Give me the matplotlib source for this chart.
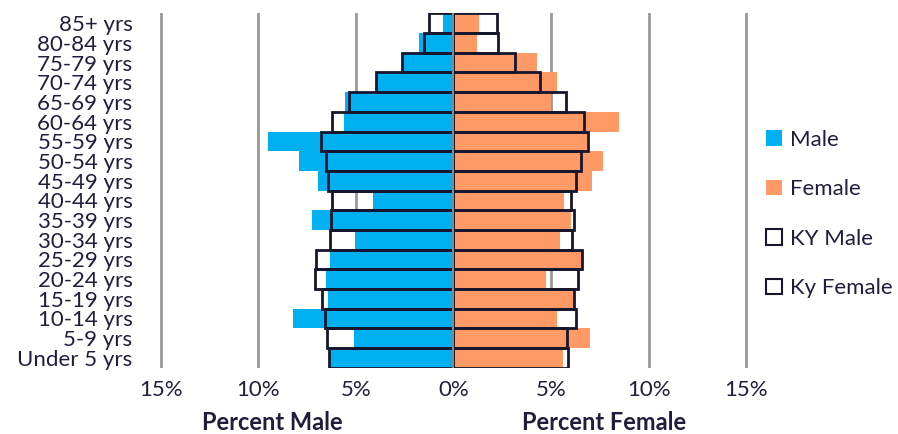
import numpy as np
import matplotlib
matplotlib.use('Agg')
from matplotlib import pyplot as plt
from matplotlib.patches import Patch

# age groups, bottom to top
ages = ['Under 5 yrs', '5-9 yrs', '10-14 yrs', '15-19 yrs', '20-24 yrs', '25-29 yrs',
        '30-34 yrs', '35-39 yrs', '40-44 yrs', '45-49 yrs', '50-54 yrs', '55-59 yrs',
        '60-64 yrs', '65-69 yrs', '70-74 yrs', '75-79 yrs', '80-84 yrs', '85+ yrs']

# percentages (county vs Kentucky)
male     = [6.34, 5.10, 8.24, 6.44, 6.52, 6.35, 5.03, 7.27, 4.13, 6.95, 7.93, 9.52,
            5.63, 5.54, 3.97, 2.63, 1.76, 0.54]
ky_male  = [6.39, 6.49, 6.61, 6.75, 7.12, 7.03, 6.35, 6.29, 6.25, 6.42, 6.52, 6.78,
            6.25, 5.37, 3.97, 2.63, 1.53, 1.26]
female   = [5.59, 7.02, 5.33, 6.20, 4.73, 6.57, 5.47, 6.03, 5.64, 7.10, 7.66, 6.85,
            8.46, 4.99, 5.33, 4.28, 1.20, 1.30]
ky_female = [5.88, 5.84, 6.27, 6.20, 6.40, 6.57, 6.10, 6.16, 6.03, 6.27, 6.54, 6.90,
             6.67, 5.79, 4.43, 3.14, 2.27, 2.23]

xticks = [-15, -10, -5, 0, 5, 10, 15]
xticklabels = ['15%', '10%', '5%', '0%', '5%', '10%', '15%']

blue = '#00B0F0'
orange = '#FF9966'
dark = '#16162e'
txt = '#1f1f3d'
plt.rcParams['font.family'] = ['Lato', 'DejaVu Sans']

y = np.arange(len(ages))
fig = plt.figure(figsize=(8.98, 4.34), dpi=100)
ax = fig.add_axes([0.177, 0.153, 0.656, 0.816])

for v in xticks:
    ax.axvline(v, color='#999999', lw=2, zorder=1)

ax.barh(y, -np.array(male), height=1, color=blue, zorder=2)
ax.barh(y, female, height=1, color=orange, zorder=2)
ax.barh(y, -np.array(ky_male), height=1, fill=False, edgecolor=dark, lw=2, zorder=3)
ax.barh(y, ky_female, height=1, fill=False, edgecolor=dark, lw=2, zorder=3)
ax.axvline(0, color='#888888', lw=1.5, zorder=4)

ax.set_xlim(-15.1, 15.1)
ax.set_ylim(-0.5, len(ages) - 0.5)
ax.set_yticks(y)
ax.set_yticklabels(ages, fontsize=16, color=txt)
ax.set_xticks(xticks)
ax.set_xticklabels(xticklabels, fontsize=16, color=txt)
ax.tick_params(length=0, axis='y', pad=19)
ax.tick_params(length=0, axis='x', pad=9)
for s in ax.spines.values():
    s.set_visible(False)

fig.text(272 / 898, 1 - 423 / 434, 'Percent Male', ha='center', va='center',
         fontsize=17, fontweight='bold', color=txt)
fig.text(604 / 898, 1 - 423 / 434, 'Percent Female', ha='center', va='center',
         fontsize=17, fontweight='bold', color=txt)

handles = [Patch(facecolor=blue, edgecolor='none'),
           Patch(facecolor=orange, edgecolor='none'),
           Patch(facecolor='white', edgecolor=dark, lw=1.5),
           Patch(facecolor='white', edgecolor=dark, lw=1.5)]
leg = fig.legend(handles, ['Male', 'Female', 'KY Male', 'Ky Female'],
                 loc='center left', bbox_to_anchor=(766 / 898, 1 - 214 / 434),
                 frameon=False, fontsize=16, handlelength=0.7, handleheight=0.7,
                 handletextpad=0.4, labelspacing=1.33, borderpad=0, borderaxespad=0)
for t in leg.get_texts():
    t.set_color(txt)

fig.savefig('out.png', dpi=100)
